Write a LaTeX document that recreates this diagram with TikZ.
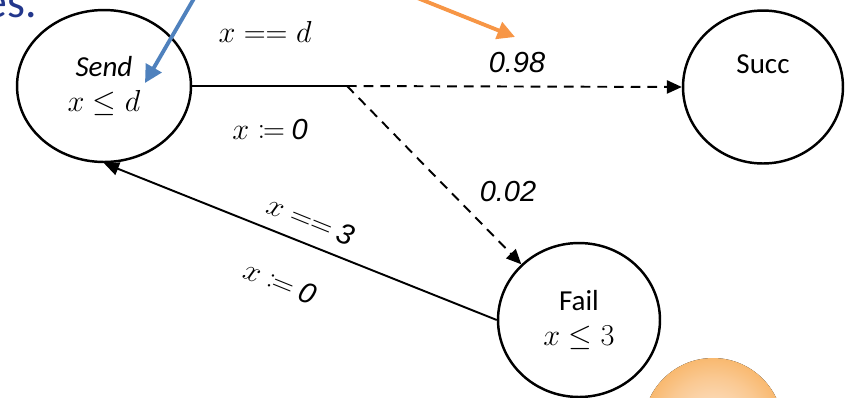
\documentclass[tikz,border=0pt]{standalone}
\usepackage[no-math]{fontspec}
\usepackage{amsmath,mathtools}
\setmainfont{Carlito}
\newfontfamily\arialfont{Liberation Sans}
\usetikzlibrary{arrows.meta,positioning,shapes.geometric,calc}
\definecolor{titleblue}{RGB}{35,55,140}
\definecolor{calloutblue}{RGB}{79,129,189}
\definecolor{calloutorange}{RGB}{247,150,70}
\definecolor{ballrim}{RGB}{246,160,58}
\definecolor{balllight}{RGB}{253,234,218}
\newcommand\lblsize{\fontsize{16.5}{20}\selectfont}
\pgfdeclareradialshading{orangeball}{\pgfpoint{0bp}{0bp}}{%
  color(0bp)=(balllight); color(18bp)=(balllight!55!ballrim);
  color(36bp)=(ballrim); color(50bp)=(ballrim)}
\tikzset{
  loc/.style={ellipse,draw=black,line width=1.4pt,inner sep=0pt,align=center,
              font=\lblsize},
  trans/.style={draw=black,line width=1.1pt},
  tip/.style={-{Triangle[length=8.5pt,width=7.5pt]}},
  prob/.style={trans,tip,dash pattern=on 5.5pt off 4pt},
  back/.style={trans,tip},
  elbl/.style={inner sep=1pt,font=\lblsize},
  plbl/.style={inner sep=1pt,font=\lblsize\arialfont\itshape},
  callout/.style={line width=2.2pt,-{Triangle[length=10pt,width=10pt]}},
}

\begin{document}
\begin{tikzpicture}[x=0.02cm,y=-0.02cm]
  \useasboundingbox (0,0) rectangle (846,397);
  \clip (0,0) rectangle (846,397);
  \fill[shading=orangeball] (713,428) circle[radius=1.4cm];
  \node[anchor=base east,inner sep=0pt,text=titleblue,
        font=\fontsize{26}{30}\selectfont] (title) at (37,17) {es.};
  % locations
  \node[loc,minimum width=3.48cm,minimum height=3.04cm] (send) at (104,86)
    {\itshape Send\\$x \le d$};
  \node[loc,minimum width=3.2cm,minimum height=3.06cm] (succ) at (763,87)
    {Succ\\\strut};
  \node[loc,minimum width=3.24cm,minimum height=3.08cm] (fail) at (579,320)
    {Fail\\$x \le 3$};
  % transitions
  \coordinate (br) at (347,86);
  \draw[trans] (send.east) -- (br);
  \draw[prob] (br) -- (succ.west);
  \draw[prob] (br) -- (fail.136);
  \draw[back] (fail.west) -- (send.south);
  % labels
  \node[elbl] (gsend) at (265,32) {$x == d$};
  \node[elbl] (rsend) at (270,130) {$x \coloneqq$ {\arialfont\itshape 0}};
  \node[plbl] (psucc) at (517,63) {0.98};
  \node[plbl] (pfail) at (508,192) {0.02};
  \node[elbl,rotate=-22] (gfail) at (311,220) {$x ==$ {\arialfont\itshape 3}};
  \node[elbl,rotate=-22] (rfail) at (280,282) {$x \coloneqq$ {\arialfont\itshape 0}};
  % callouts
  \coordinate (bluetail) at (196,-5);
  \coordinate (bluetip) at (145,83);
  \coordinate (orangetail) at (410,-5);
  \coordinate (orangetip) at (515,37);
  \draw[callout,draw=calloutblue,fill=calloutblue] (bluetail) -- (bluetip);
  \draw[callout,draw=calloutorange,fill=calloutorange] (orangetail) -- (orangetip);
\end{tikzpicture}
\end{document}
